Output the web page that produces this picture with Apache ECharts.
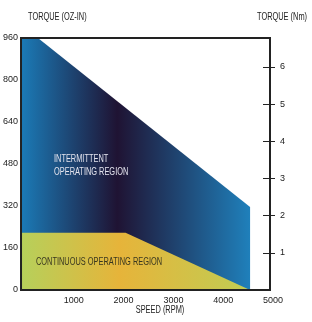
<!DOCTYPE html>
<html>
<head>
<meta charset="utf-8">
<script src="https://cdn.jsdelivr.net/npm/echarts@6/dist/echarts.min.js"></script>
<style>
  html, body { margin: 0; padding: 0; background: #fff; }
  #main { width: 312px; height: 322px; }
</style>
</head>
<body>
<div id="main"></div>
<script>
// torque/speed curves (speed rpm, torque oz-in)
var intermittent = [[0, 960], [340, 960], [4600, 316], [4600, 0]];
var continuous = [[0, 218], [2100, 218], [4600, 0]];
var speedTicks = [1000, 2000, 3000, 4000, 5000];
var nmTicks = [1, 2, 3, 4, 5, 6];
var OZIN_TO_NM = 0.0070616;

var font = '"Liberation Sans", Arial, sans-serif';
var dom = document.getElementById('main');
var myChart = echarts.init(dom);

function label(text, x, y, align, color) {
  return {
    type: 'text', x: x, y: y, scaleX: 0.74, z: 10, silent: true,
    style: {
      text: text, font: '10px ' + font, fill: color,
      textAlign: align, verticalAlign: 'middle', lineHeight: 13
    }
  };
}

var option = {
  animation: false,
  textStyle: { fontFamily: font },
  grid: {
    left: 19, right: 42, top: 38, bottom: 32,
    show: true, z: 10,
    backgroundColor: 'transparent',
    borderColor: '#222', borderWidth: 2
  },
  xAxis: {
    type: 'value',
    min: 0, max: 5000, interval: 1000,
    axisLine: { show: false },
    axisTick: { show: false },
    splitLine: { show: false },
    axisLabel: {
      margin: 6, fontSize: 9, color: '#222', fontFamily: font,
      padding: [0, 0, 0, 6],
      formatter: function (v) { return speedTicks.indexOf(v) >= 0 ? String(v) : ''; }
    }
  },
  yAxis: [{
    type: 'value',
    min: 0, max: 960, interval: 160,
    axisLine: { show: false },
    axisTick: { show: false },
    splitLine: { show: false },
    axisLabel: { margin: 3, fontSize: 9, color: '#222', fontFamily: font }
  }, {
    type: 'value',
    position: 'right',
    offset: 5,
    min: 0, max: 960 * OZIN_TO_NM,
    z: 11,
    axisLine: { show: false, onZero: false },
    axisTick: { show: true, inside: true, length: 12, customValues: nmTicks, lineStyle: { color: '#222', width: 1 } },
    splitLine: { show: false },
    axisLabel: {
      margin: 5, fontSize: 9, color: '#222', fontFamily: font,
      customValues: nmTicks, padding: [0, 0, 5, 0]
    }
  }],
  series: [{
    type: 'line',
    z: 1,
    data: intermittent,
    showSymbol: false,
    silent: true,
    lineStyle: { opacity: 0 },
    areaStyle: {
      opacity: 1,
      color: {
        type: 'linear', x: 0, y: 0, x2: 1, y2: 0,
        colorStops: [
          { offset: 0, color: '#1b7bb7' },
          { offset: 0.42, color: '#1f1333' },
          { offset: 1, color: '#1f80bb' }
        ]
      }
    }
  }, {
    type: 'line',
    z: 2,
    data: continuous,
    showSymbol: false,
    silent: true,
    lineStyle: { opacity: 0 },
    areaStyle: {
      opacity: 1,
      color: {
        type: 'linear', x: 0, y: 0, x2: 1, y2: 0,
        colorStops: [
          { offset: 0, color: '#b6d05b' },
          { offset: 0.43, color: '#e6b43a' },
          { offset: 1, color: '#c0cd54' }
        ]
      }
    }
  }],
  graphic: [
    label('TORQUE (OZ-IN)', 28, 17, 'left', '#222'),
    label('TORQUE (Nm)', 257, 17, 'left', '#222'),
    label('SPEED (RPM)', 160, 310, 'center', '#222'),
    label('INTERMITTENT\nOPERATING REGION', 54, 166, 'left', '#e4e4ee'),
    label('CONTINUOUS OPERATING REGION', 36, 262, 'left', '#38361f')
  ]
};

myChart.setOption(option);
window.onresize = function () {
  myChart.resize();
};
</script>
</body>
</html>
